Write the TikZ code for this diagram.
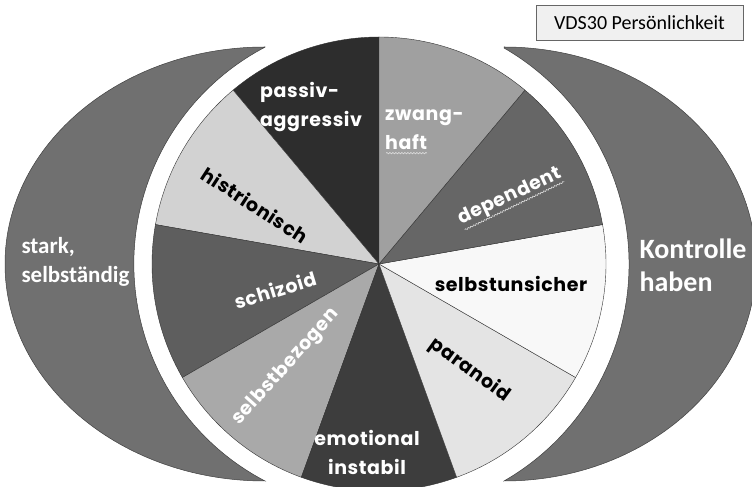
\documentclass[tikz,border=0pt]{standalone}
\usepackage{fontspec}
\setmainfont{Carlito}
\newfontfamily\slicefont{Poppins}[LetterSpace=3]
\usetikzlibrary{positioning,decorations.pathmorphing}

\definecolor{cresc}{HTML}{707070}
\definecolor{sliceA}{HTML}{2D2D2D}
\definecolor{sliceB}{HTML}{D2D2D2}
\definecolor{sliceC}{HTML}{5E5E5E}
\definecolor{sliceD}{HTML}{A9A9A9}
\definecolor{sliceE}{HTML}{3D3D3D}
\definecolor{sliceF}{HTML}{E4E4E4}
\definecolor{sliceG}{HTML}{F8F8F8}
\definecolor{sliceH}{HTML}{666666}
\definecolor{sliceI}{HTML}{A0A0A0}

\begin{document}
\begin{tikzpicture}[
    x=1pt, y=1pt,
    crescent/.style={
        fill=cresc,
        draw=black!75,
        line width=0.5pt
    },
    slice/.style={
        draw=black!80,
        line width=0.4pt
    },
    slice label/.style={
        font=\slicefont\bfseries\fontsize{19}{29}\selectfont,
        text=#1,
        inner sep=1pt
    },
    side label/.style={
        text=white,
        align=left,
        anchor=west
    },
    squiggle/.style={
        draw=white!75!gray,
        line width=0.6pt,
        decorate,
        decoration={snake, amplitude=0.7pt, segment length=3pt}
    }
]

\clip (0,0) rectangle (752,487);
\coordinate (C) at (379,223);

% Side crescents
\path[crescent] (265,440)
    arc[start angle=90, end angle=270, x radius=260, y radius=217]
    arc[start angle=242.3, end angle=117.7, radius=245] -- cycle;
\path[crescent] (504,440)
    arc[start angle=90, end angle=-90, x radius=252, y radius=217]
    arc[start angle=-60, end angle=60, radius=250] -- cycle;

% Pie slices, 40 degrees each
\foreach \a/\col in {90/sliceA, 130/sliceB, 170/sliceC, 210/sliceD, 250/sliceE,
                     290/sliceF, 330/sliceG, 10/sliceH, 50/sliceI} {
    \filldraw[slice, fill=\col] (C) -- ++(\a:227)
        arc[start angle=\a, delta angle=40, radius=227] -- cycle;
}

% Slice labels
\node[slice label=white, align=left, anchor=west] (passiv) at (259,380) {passiv-\\aggressiv};
\node[slice label=black, rotate=-33] (histrio) at (255,282) {histrionisch};
\node[slice label=white, rotate=17] (schizoid) at (275,197) {schizoid};
\node[slice label=white, rotate=48] (selbstbez) at (286,120) {selbstbezogen};
\node[slice label=white, align=center] (emotional) at (367,35) {emotional\\instabil};
\node[slice label=black, rotate=-36] (paranoid) at (470,117) {paranoid};
\node[slice label=black] (selbstuns) at (511,203) {selbstunsicher};
\node[slice label=white, rotate=25] (dependent) at (510,290) {dependent};
\node[slice label=white, align=left, anchor=west] (zwang) at (384,357) {zwang-\\haft};

% spell-check marks
\draw[squiggle] ([shift={(2,-2)}]zwang.south west) -- ++(41,0);
\draw[squiggle] ([shift={(2,1)}]dependent.south west) -- ([shift={(-2,1)}]dependent.south east);

% Crescent labels
\node[side label, font=\bfseries\fontsize{23}{29}\selectfont] (stark) at (18,225) {stark,\\selbständig};
\node[side label, font=\bfseries\fontsize{28}{33}\selectfont] (kontrolle) at (636,222) {Kontrolle\\haben};

% Title box
\node[draw=black!60, fill=black!6, minimum width=207, minimum height=35,
      font=\fontsize{20}{24}\selectfont] (title) at (639.5,464.5) {VDS30 Persönlichkeit};

\end{tikzpicture}
\end{document}
